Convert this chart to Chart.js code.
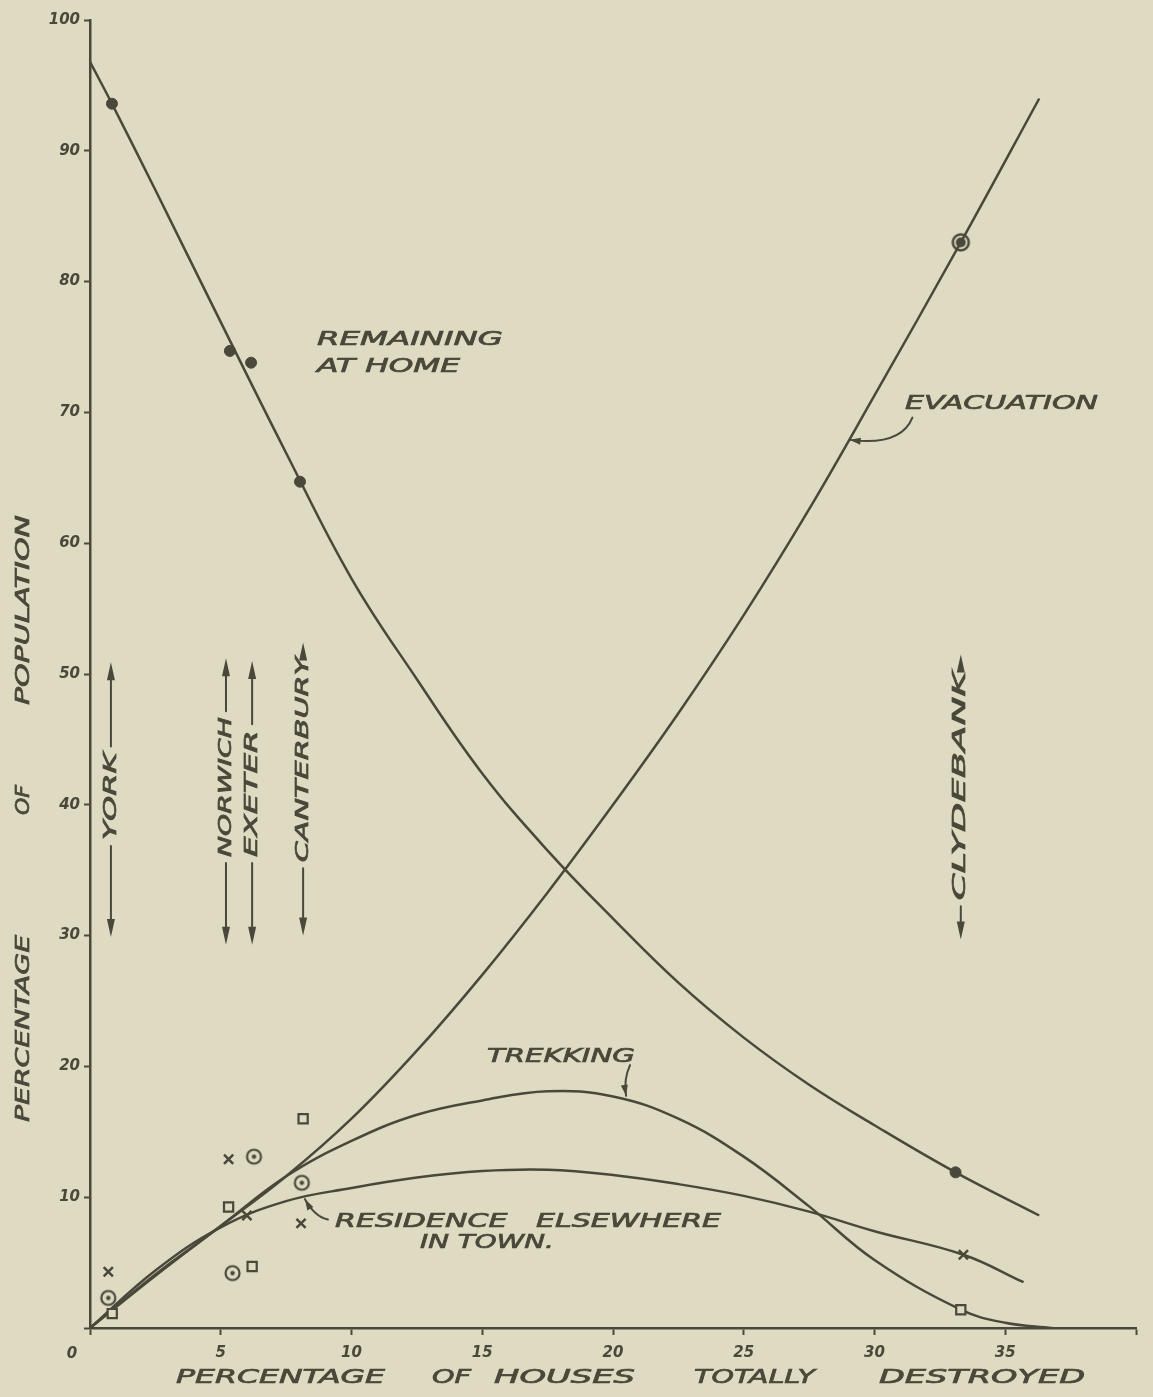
<!DOCTYPE html>
<html>
<head>
<meta charset="utf-8">
<script src="https://cdn.jsdelivr.net/npm/chart.js@4.4.1/dist/chart.umd.min.js"></script>
<style>
  html, body { margin: 0; padding: 0; background: #dfdbc3; }
  canvas { display: block; }
</style>
</head>
<body>
<canvas id="chart" width="1153" height="1397"></canvas>
<script>
// fitted curves (x = % houses destroyed, y = % population)
const homeCurveX = [0, 0.84, 2.5, 5, 7.5, 10, 12.5, 15, 17.5, 20, 22.5, 25, 27.5, 30, 33.1, 36.3];
const homeCurveY = [96.8, 93.6, 87.0, 76.9, 66.9, 57.3, 49.6, 42.4, 36.5, 31.3, 26.4, 22.2, 18.6, 15.5, 11.9, 8.6];
const evacCurveX = [0, 2.5, 5, 7.5, 10, 12.5, 15, 17.5, 20, 22.5, 25, 27.5, 30, 33.3, 36.3];
const evacCurveY = [0, 4.1, 7.8, 11.6, 16.0, 21.2, 27.0, 33.3, 40.0, 47.0, 54.5, 62.6, 71.3, 83.0, 94.0];
const trekCurveX = [0, 2.5, 5, 7.5, 10, 12.5, 15, 17.5, 20, 22.5, 25, 27.5, 30, 33.3, 35, 36.8];
const trekCurveY = [0, 4.0, 7.8, 11.6, 14.3, 16.3, 17.4, 18.1, 17.7, 16.0, 13.1, 9.3, 5.2, 1.4, 0.4, 0];
const residCurveX = [0, 2.5, 5, 7.5, 10, 12.5, 15, 17.5, 20, 22.5, 25, 27.5, 30, 33.4, 35.7];
const residCurveY = [0, 4.4, 7.7, 9.7, 10.7, 11.5, 12.0, 12.1, 11.7, 11.0, 10.1, 8.9, 7.4, 5.6, 3.5];

// observed towns: York, Norwich, Exeter, Canterbury, Clydebank
const homePtX = [0.84, 5.35, 6.16, 8.03, 33.1];
const homePtY = [93.6, 74.7, 73.8, 64.7, 11.9];
const evacPtX = [0.7, 5.45, 6.27, 8.1, 33.3];
const evacPtY = [2.3, 4.2, 13.1, 11.1, 83.0];
const trekPtX = [0.85, 5.3, 6.2, 8.15, 33.3];
const trekPtY = [1.1, 9.25, 4.7, 16.0, 1.4];
const residPtX = [0.7, 5.3, 6.0, 8.07, 33.4];
const residPtY = [4.3, 12.9, 8.6, 8.0, 5.6];

// town marker arrows
const cityNames = ['YORK', 'NORWICH', 'EXETER', 'CANTERBURY', 'CLYDEBANK'];
const cityX = [0.8, 5.2, 6.2, 8.15, 33.3];
const cityArrowTop = [50.9, 51.2, 51.0, 52.4, 51.5];
const cityArrowBottom = [29.9, 29.3, 29.3, 30.0, 29.7];
const cityTextTop = [44.0, 46.7, 45.7, 51.3, 50.2];
const cityTextBottom = [37.3, 36.0, 36.0, 35.6, 32.7];

// curve labels
const noteText = ['REMAINING', 'AT HOME', 'EVACUATION', 'TREKKING', 'RESIDENCE   ELSEWHERE', 'IN TOWN.'];
const noteX0 = [8.68, 8.68, 31.17, 15.18, 9.37, 12.62];
const noteX1 = [15.79, 14.15, 38.55, 20.84, 24.13, 17.74];
const noteY = [75.5, 73.5, 70.6, 20.7, 8.1, 6.5];

const xTitleWords = ['PERCENTAGE', 'OF', 'HOUSES', 'TOTALLY', 'DESTROYED'];
const yTitleWords = ['PERCENTAGE', 'OF', 'POPULATION'];

const paper = '#dfdbc3';
const ink = '#4a483a';
const handFont = '"DejaVu Sans", "Liberation Sans", sans-serif';

function pts(xs, ys) {
  return xs.map((v, i) => ({ x: v, y: ys[i] }));
}

function ringMarker(r, dotR, lw) {
  const c = document.createElement('canvas');
  const s = Math.ceil(2 * r + lw + 2);
  c.width = s; c.height = s;
  const g = c.getContext('2d');
  g.strokeStyle = ink;
  g.fillStyle = ink;
  g.lineWidth = lw;
  g.beginPath();
  g.arc(s / 2, s / 2, r, 0, Math.PI * 2);
  g.stroke();
  g.beginPath();
  g.arc(s / 2, s / 2, dotR, 0, Math.PI * 2);
  g.fill();
  return c;
}

const ringSmall = ringMarker(7, 2.2, 2.2);
const ringBig = ringMarker(8, 5, 2.5);

// draws text squeezed/stretched to a given length, like the hand lettering
function letter(ctx, text, cx, cy, len, size, rot) {
  ctx.save();
  ctx.font = 'italic ' + size + 'px ' + handFont;
  const w = ctx.measureText(text).width;
  ctx.translate(cx, cy);
  if (rot) ctx.rotate(rot);
  ctx.scale(len / w, 1);
  ctx.fillStyle = ink;
  ctx.strokeStyle = ink;
  ctx.lineWidth = 0.7;
  ctx.textAlign = 'center';
  ctx.textBaseline = 'middle';
  ctx.fillText(text, 0, 0);
  ctx.strokeText(text, 0, 0);
  ctx.restore();
}

function arrowHead(ctx, tx, ty, fx, fy, len, half) {
  const a = Math.atan2(ty - fy, tx - fx);
  ctx.save();
  ctx.translate(tx, ty);
  ctx.rotate(a);
  ctx.beginPath();
  ctx.moveTo(0, 0);
  ctx.lineTo(-len, -half);
  ctx.lineTo(-len, half);
  ctx.closePath();
  ctx.fill();
  ctx.restore();
}

const sketch = {
  id: 'sketch',
  beforeDraw(chart) {
    const ctx = chart.ctx;
    ctx.save();
    ctx.fillStyle = paper;
    ctx.fillRect(0, 0, chart.width, chart.height);
    ctx.restore();
  },
  afterDraw(chart) {
    const { ctx, chartArea, scales } = chart;
    const x = scales.x, y = scales.y;
    ctx.save();
    ctx.strokeStyle = ink;
    ctx.fillStyle = ink;
    ctx.lineCap = 'round';

    // curve labels
    noteText.forEach((t, i) => {
      const a = x.getPixelForValue(noteX0[i]);
      const b = x.getPixelForValue(noteX1[i]);
      letter(ctx, t, (a + b) / 2, y.getPixelForValue(noteY[i]), b - a, 19, 0);
    });

    // leader lines
    ctx.lineWidth = 2;
    const leader = (sx, sy, cxv, cyv, ex, ey) => {
      const p0 = [x.getPixelForValue(sx), y.getPixelForValue(sy)];
      const pc = [x.getPixelForValue(cxv), y.getPixelForValue(cyv)];
      const p1 = [x.getPixelForValue(ex), y.getPixelForValue(ey)];
      ctx.beginPath();
      ctx.moveTo(p0[0], p0[1]);
      ctx.quadraticCurveTo(pc[0], pc[1], p1[0], p1[1]);
      ctx.stroke();
      arrowHead(ctx, p1[0], p1[1], pc[0], pc[1], 11, 3.5);
    };
    leader(31.45, 69.6, 31.0, 67.4, 29.05, 67.9);
    leader(20.65, 20.1, 20.4, 19.0, 20.5, 17.75);
    leader(9.1, 8.3, 8.6, 8.5, 8.22, 9.85);

    // town arrows
    ctx.lineWidth = 2;
    cityNames.forEach((name, i) => {
      const px = x.getPixelForValue(cityX[i]);
      const top = y.getPixelForValue(cityArrowTop[i]);
      const bot = y.getPixelForValue(cityArrowBottom[i]);
      const tt = y.getPixelForValue(cityTextTop[i]);
      const tb = y.getPixelForValue(cityTextBottom[i]);
      ctx.beginPath();
      ctx.moveTo(px, top + 10);
      ctx.lineTo(px, tt - 6);
      ctx.moveTo(px, tb + 6);
      ctx.lineTo(px, bot - 10);
      ctx.stroke();
      arrowHead(ctx, px, top, px, top + 20, 18, 4);
      arrowHead(ctx, px, bot, px, bot - 20, 18, 4);
      letter(ctx, name, px, (tt + tb) / 2, tb - tt, 18, -Math.PI / 2);
    });

    // origin label
    ctx.font = 'italic bold 15px ' + handFont;
    ctx.textAlign = 'center';
    ctx.textBaseline = 'top';
    ctx.fillText('0', chartArea.left - 18, chartArea.bottom + 19);

    // axis titles
    const xw0 = [176, 432, 494, 694, 879];
    const xw1 = [385, 471, 635, 815, 1085];
    xTitleWords.forEach((w, i) => {
      letter(ctx, w, (xw0[i] + xw1[i]) / 2, chartArea.bottom + 50, xw1[i] - xw0[i], 19, 0);
    });
    const yw0 = [1122, 815, 705];
    const yw1 = [935, 785, 515];
    yTitleWords.forEach((w, i) => {
      letter(ctx, w, 24, (yw0[i] + yw1[i]) / 2, yw0[i] - yw1[i], 19, -Math.PI / 2);
    });
    ctx.restore();
  }
};

const curveStyle = {
  showLine: true,
  pointRadius: 0,
  borderColor: ink,
  borderWidth: 2.5,
  tension: 0.4,
  fill: false
};

new Chart(document.getElementById('chart'), {
  type: 'scatter',
  data: {
    datasets: [
      { label: 'Remaining at home (obs.)', data: pts(homePtX, homePtY), pointStyle: 'circle', pointRadius: 5.5,
        backgroundColor: ink, borderColor: ink, borderWidth: 1 },
      { label: 'Evacuation (obs.)', data: pts(evacPtX, evacPtY),
        pointStyle: [ringSmall, ringSmall, ringSmall, ringSmall, ringBig], pointRadius: 7 },
      { label: 'Trekking (obs.)', data: pts(trekPtX, trekPtY), pointStyle: 'rect', pointRadius: 6.5,
        backgroundColor: paper, borderColor: ink, borderWidth: 2.2 },
      { label: 'Residence elsewhere (obs.)', data: pts(residPtX, residPtY), pointStyle: 'crossRot', pointRadius: 6.5,
        borderColor: ink, borderWidth: 2.5 },
      Object.assign({ label: 'Remaining at home', data: pts(homeCurveX, homeCurveY) }, curveStyle),
      Object.assign({ label: 'Evacuation', data: pts(evacCurveX, evacCurveY) }, curveStyle),
      Object.assign({ label: 'Trekking', data: pts(trekCurveX, trekCurveY) }, curveStyle),
      Object.assign({ label: 'Residence elsewhere in town', data: pts(residCurveX, residCurveY) }, curveStyle)
    ]
  },
  options: {
    responsive: false,
    animation: false,
    devicePixelRatio: 1,
    layout: { padding: { top: 20, right: 17, left: 0, bottom: 0 } },
    plugins: { legend: { display: false }, tooltip: { enabled: false } },
    scales: {
      x: {
        type: 'linear',
        min: 0,
        max: 40,
        afterFit: (s) => { s.height = 69; },
        border: { display: true, color: ink, width: 2.5 },
        grid: { display: true, drawOnChartArea: false, drawTicks: true, tickLength: 7, tickWidth: 2, tickColor: ink },
        ticks: {
          stepSize: 5,
          padding: 9,
          color: ink,
          font: { family: 'DejaVu Sans', size: 15, style: 'italic', weight: 'bold' },
          callback: (v) => (v === 0 || v === 40 ? '' : v)
        }
      },
      y: {
        type: 'linear',
        min: 0,
        max: 100,
        afterFit: (s) => { s.width = 90; },
        border: { display: true, color: ink, width: 2.5 },
        grid: { display: true, drawOnChartArea: false, drawTicks: true, tickLength: 6, tickWidth: 2, tickColor: ink },
        ticks: {
          stepSize: 10,
          padding: 4,
          color: ink,
          font: { family: 'DejaVu Sans', size: 15, style: 'italic', weight: 'bold' },
          callback: (v) => (v === 0 ? '' : v)
        }
      }
    }
  },
  plugins: [sketch]
});
</script>
</body>
</html>
